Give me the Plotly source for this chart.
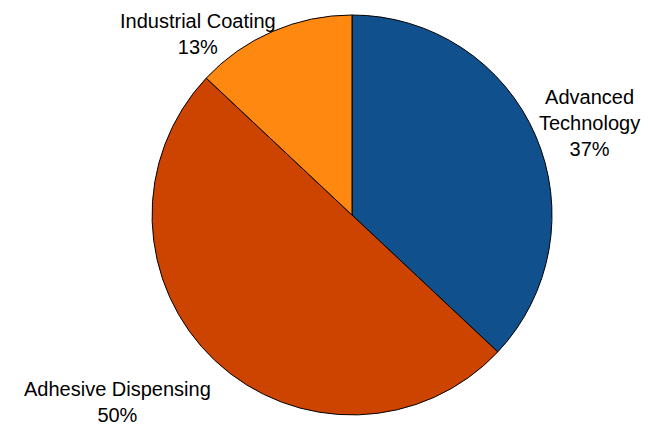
import plotly.graph_objects as go

# Daten
segments = ['Advanced Technology', 'Adhesive Dispensing', 'Industrial Coating']
label_text = ['Advanced<br>Technology', 'Adhesive Dispensing', 'Industrial Coating']
shares = [37, 50, 13]
colors = ['#10508C', '#CC4400', '#FF8811']

W, H = 656, 429
OFF = 8  # Seitenrand des Browsers

fig = go.Figure()

fig.add_trace(
    go.Pie(
        labels=segments,
        values=shares,
        sort=False,
        direction='clockwise',
        rotation=0,
        textinfo='none',
        hoverinfo='label+percent',
        marker=dict(colors=colors, line=dict(color='black', width=1)),
        domain=dict(x=[(152 - OFF) / W, (552 - OFF) / W],
                    y=[(H - 415 + OFF) / H, (H - 15 + OFF) / H]),
        showlegend=False
    )
)

# Beschriftungen ausserhalb (Position in Pixeln)
label_pos = [(589, 123), (117, 402), (198, 34)]
total = sum(shares)
for txt, val, (px, py) in zip(label_text, shares, label_pos):
    fig.add_annotation(
        x=(px - OFF) / W, y=1 - (py - OFF) / H, xref='paper', yref='paper',
        text=f'{txt}<br>{round(val / total * 100)}%',
        showarrow=False, xanchor='center', yanchor='middle',
        font=dict(family='Liberation Sans, Arial', size=20, color='black')
    )

fig.update_layout(
    width=W,
    height=H,
    margin=dict(l=0, r=0, t=0, b=0),
    paper_bgcolor='white',
    plot_bgcolor='white',
)

fig.write_html('out.html')
